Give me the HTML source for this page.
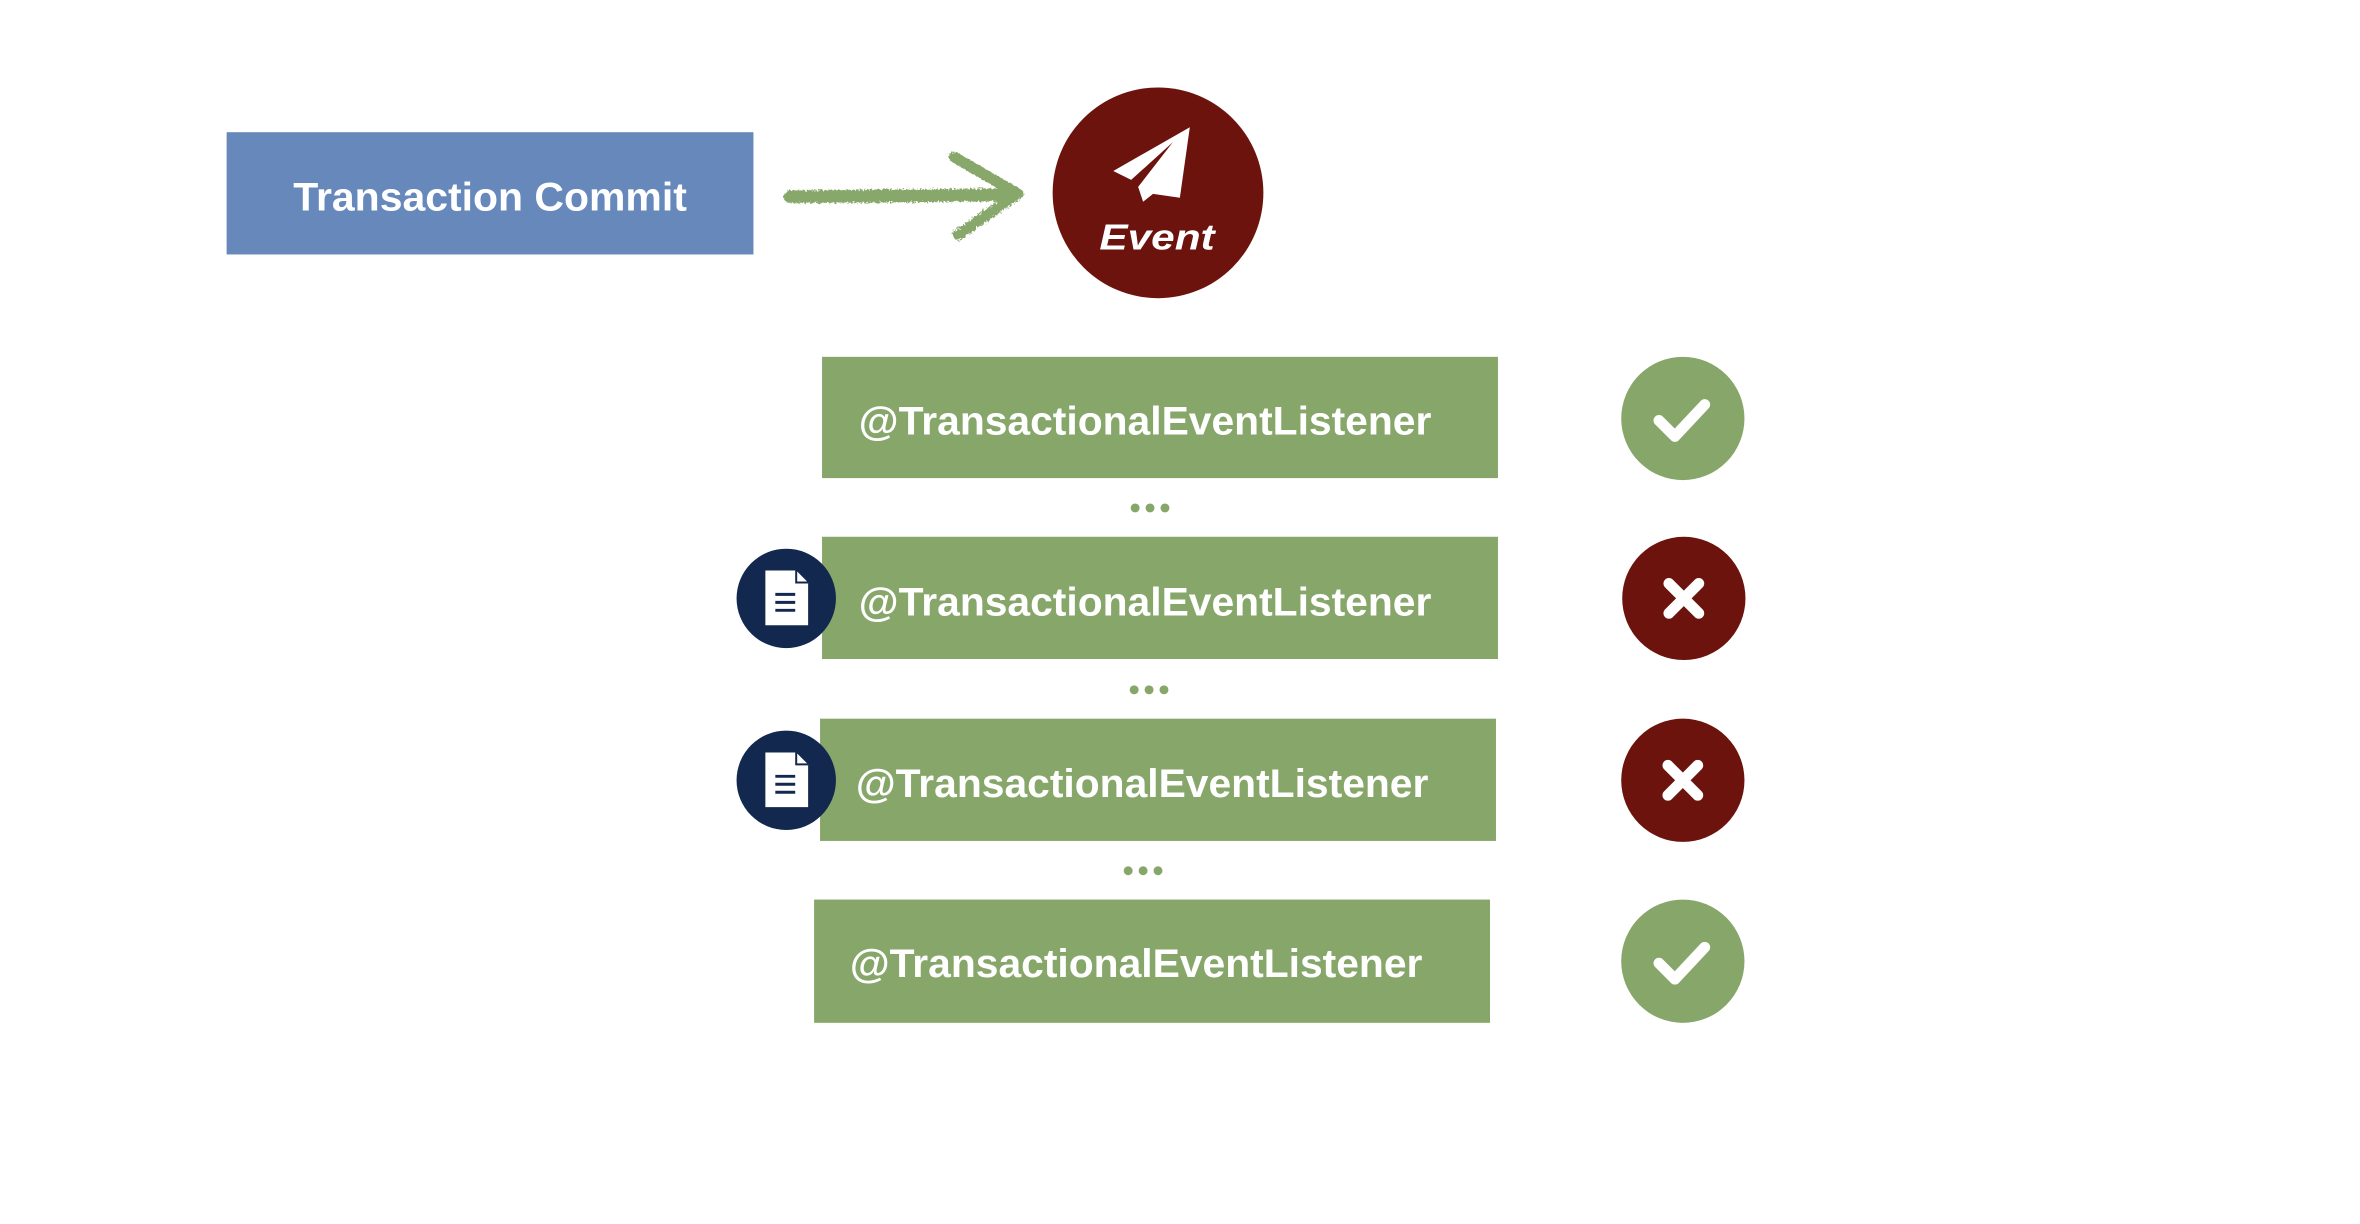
<!DOCTYPE html>
<html><head><meta charset="utf-8"><style>
html,body{margin:0;padding:0;background:#fff;}
svg{display:block}
text{font-family:"Liberation Sans",sans-serif;font-weight:bold;fill:#fff}
</style></head><body>
<svg width="2360" height="1224" viewBox="0 0 2360 1224" xmlns="http://www.w3.org/2000/svg">
<defs>
<filter id="rough" x="-10%" y="-30%" width="120%" height="160%">
<feTurbulence type="fractalNoise" baseFrequency="0.5" numOctaves="2" result="n"/>
<feDisplacementMap in="SourceGraphic" in2="n" scale="6"/>
</filter>
</defs>
<g transform="scale(0.994)">
<rect x="228" y="133" width="530" height="123" fill="#6688bb"/>
<text x="295" y="212" font-size="40" textLength="396" lengthAdjust="spacingAndGlyphs">Transaction Commit</text>
<g filter="url(#rough)" stroke="#87a86a" fill="none" stroke-linecap="round" stroke-linejoin="round">
<line x1="795" y1="198" x2="1018" y2="196" stroke-width="13"/>
<polyline points="960,158 1024,195 964,236" stroke-width="11"/>
</g>
<circle cx="1165" cy="194" r="106" fill="#6b130c"/>
<path d="M1197,128 L1120,172 L1138,181 L1180,143 L1145,188 L1150,203 L1160,195 L1187,199 Z" fill="#fff"/>
<text x="1106" y="251" font-size="36" font-style="italic" textLength="116" lengthAdjust="spacingAndGlyphs">Event</text>

<rect x="827" y="359" width="680" height="122" fill="#87a66a"/>
<text x="864" y="437" font-size="40" textLength="576" lengthAdjust="spacingAndGlyphs">@TransactionalEventListener</text>
<rect x="827" y="540" width="680" height="123" fill="#87a66a"/>
<text x="864" y="619" font-size="40" textLength="576" lengthAdjust="spacingAndGlyphs">@TransactionalEventListener</text>
<rect x="825" y="723" width="680" height="123" fill="#87a66a"/>
<text x="861" y="802" font-size="40" textLength="576" lengthAdjust="spacingAndGlyphs">@TransactionalEventListener</text>
<rect x="819" y="905" width="680" height="124" fill="#87a66a"/>
<text x="855" y="983" font-size="40" textLength="576" lengthAdjust="spacingAndGlyphs">@TransactionalEventListener</text>

<g fill="#87a66a">
<circle cx="1142" cy="511" r="4.5"/><circle cx="1157" cy="511" r="4.5"/><circle cx="1172" cy="511" r="4.5"/>
<circle cx="1141" cy="694" r="4.5"/><circle cx="1156" cy="694" r="4.5"/><circle cx="1171" cy="694" r="4.5"/>
<circle cx="1135" cy="876" r="4.5"/><circle cx="1150" cy="876" r="4.5"/><circle cx="1165" cy="876" r="4.5"/>
</g>

<circle cx="1693" cy="421" r="62" fill="#87a66a"/>
<polyline points="1669,423 1685,439 1715,407" fill="none" stroke="#fff" stroke-width="11" stroke-linecap="round" stroke-linejoin="round"/>
<circle cx="1694" cy="602" r="62" fill="#6b130c"/>
<path d="M1679,587 L1709,617 M1709,587 L1679,617" stroke="#fff" stroke-width="11" stroke-linecap="round"/>
<circle cx="1693" cy="785" r="62" fill="#6b130c"/>
<path d="M1678,770 L1708,800 M1708,770 L1678,800" stroke="#fff" stroke-width="11" stroke-linecap="round"/>
<circle cx="1693" cy="967" r="62" fill="#87a66a"/>
<polyline points="1669,969 1685,985 1715,953" fill="none" stroke="#fff" stroke-width="11" stroke-linecap="round" stroke-linejoin="round"/>

<g>
<circle cx="791" cy="602" r="50" fill="#13284f"/>
<path d="M770,574 H801 L813,586 V629 H770 Z" fill="#fff"/>
<path d="M801,574 V586 H813" fill="none" stroke="#13284f" stroke-width="2"/>
<path d="M780,598 H800 M780,606 H800 M780,614 H800" stroke="#13284f" stroke-width="3"/>
</g>
<g>
<circle cx="791" cy="785" r="50" fill="#13284f"/>
<path d="M770,757 H801 L813,769 V812 H770 Z" fill="#fff"/>
<path d="M801,757 V769 H813" fill="none" stroke="#13284f" stroke-width="2"/>
<path d="M780,781 H800 M780,789 H800 M780,797 H800" stroke="#13284f" stroke-width="3"/>
</g>
</g>
</svg>
</body></html>
